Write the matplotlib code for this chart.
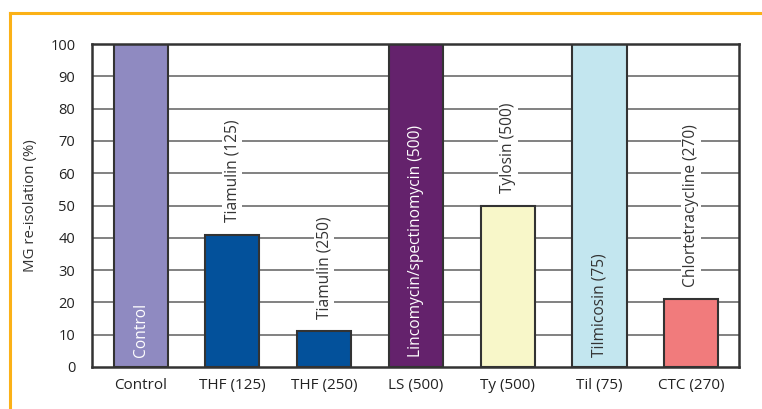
import matplotlib
matplotlib.use("Agg")
import matplotlib.pyplot as plt
from matplotlib.lines import Line2D

# data
groups = ["Control", "THF (125)", "THF (250)", "LS (500)", "Ty (500)",
          "Til (75)", "CTC (270)"]
reisolation = [100, 41, 11, 100, 50, 100, 21]
bar_labels = ["Control", "Tiamulin (125)", "Tiamulin (250)",
              "Lincomycin/spectinomycin (500)", "Tylosin (500)",
              "Tilmicosin (75)", "Chlortetracycline (270)"]
label_inside = [True, False, False, True, False, True, False]
bar_colors = ["#8f8ac1", "#03519b", "#03519b", "#64226c", "#f8f7c9",
              "#c3e6ef", "#f17b7c"]
inside_text_colors = ["white", None, None, "white", None, "#333333", None]
yticks = list(range(0, 101, 10))

plt.rcParams.update({"font.family": ["Open Sans", "DejaVu Sans"],
                     "font.size": 10})

fig = plt.figure(figsize=(7.62, 4.09), dpi=100)
ax = fig.add_axes([0.1207, 0.1027, 0.8491, 0.7897])

x = list(range(len(groups)))
for yv in yticks[1:-1]:
    ax.axhline(yv, color="#777777", lw=1.3, zorder=1)
ax.bar(x, reisolation, width=0.59, color=bar_colors, edgecolor="#333333",
       linewidth=1.5, zorder=3)

for i, (val, lab) in enumerate(zip(reisolation, bar_labels)):
    if label_inside[i]:
        ax.annotate(lab, (i, 0), xytext=(0, 7), textcoords="offset points",
                    rotation=90, ha="center", va="bottom", fontsize=11.2,
                    color=inside_text_colors[i], zorder=4)
    else:
        ax.annotate(lab, (i, val), xytext=(0, 9), textcoords="offset points",
                    rotation=90, ha="center", va="bottom", fontsize=11.2,
                    color="#333333", zorder=4,
                    bbox=dict(facecolor="white", edgecolor="none", pad=1.5))

ax.set_xlim(-0.53, 6.52)
ax.set_ylim(0, 100)
ax.set_xticks(x)
ax.set_xticklabels(groups)
ax.set_yticks(yticks)
ax.tick_params(axis="both", length=0, colors="#222222")
ax.tick_params(axis="y", pad=12, labelsize=10.5)
ax.tick_params(axis="x", pad=8, labelsize=11)
ax.set_ylabel("MG re-isolation (%)", fontsize=10.8, color="#333333",
              labelpad=9)
for s in ax.spines.values():
    s.set_color("#333333")
    s.set_linewidth(1.8)
    s.set_zorder(5)

# orange frame (top and left edges)
frame_col = "#fbb117"
fig.add_artist(Line2D([10 / 762, 1.0], [1 - 13 / 409, 1 - 13 / 409],
                      transform=fig.transFigure, color=frame_col, lw=2.2))
fig.add_artist(Line2D([10 / 762, 10 / 762], [0, 1 - 13 / 409],
                      transform=fig.transFigure, color=frame_col, lw=2.2))

fig.savefig("out.png", dpi=100)
